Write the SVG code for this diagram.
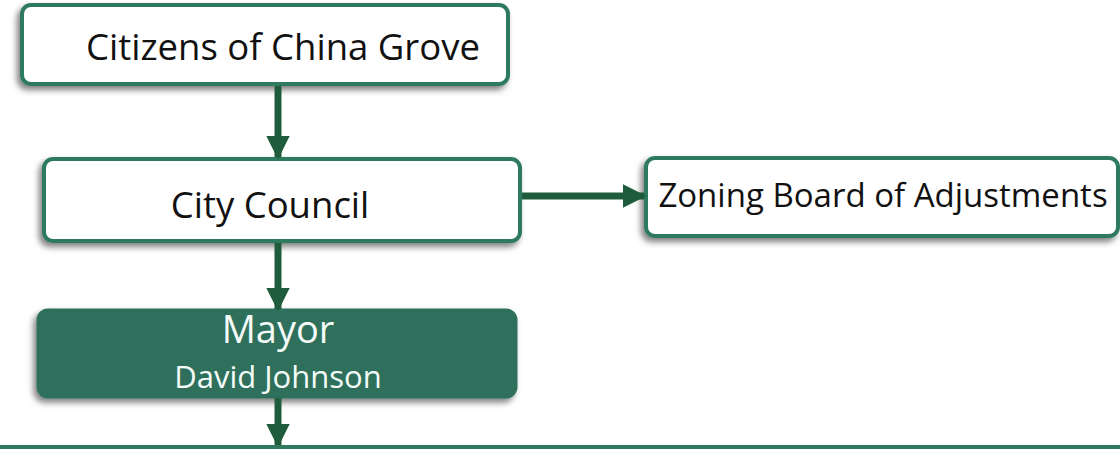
<svg xmlns="http://www.w3.org/2000/svg" width="1120" height="449" viewBox="0 0 1120 449">
<defs>
<filter id="sh" x="-10%" y="-20%" width="120%" height="150%">
<feDropShadow dx="-3" dy="4" stdDeviation="3" flood-color="#000" flood-opacity="0.5"/>
</filter>
<marker id="ah" viewBox="0 0 10 10" refX="9" refY="5" markerWidth="3.4" markerHeight="3.4" orient="auto" markerUnits="strokeWidth">
<path d="M0,0 L10,5 L0,10 z" fill="#1e5c3c"/>
</marker>
<style>
.box{fill:#fff;stroke:#2f7a5e;stroke-width:4;filter:url(#sh)}
.dark{fill:#2f6f5c;stroke:#2f6f5c;stroke-width:3;filter:url(#sh)}
.t{font-family:"Open Sans","Liberation Sans",sans-serif;fill:#111;text-anchor:middle}
.w{font-family:"Open Sans","Liberation Sans",sans-serif;fill:#f4fbf8;text-anchor:middle}
.c{stroke:#1e5c3c;stroke-width:7;fill:none;marker-end:url(#ah)}
</style>
</defs>
<g id="citizens">
<rect class="box" x="22" y="5" width="486" height="79" rx="9"/>
<text class="t" x="283" y="60" font-size="36.5">Citizens of China Grove</text>
</g>
<g id="council">
<rect class="box" x="44" y="159" width="476" height="82" rx="9"/>
<text class="t" x="270" y="218" font-size="36.5">City Council</text>
</g>
<g id="zoning">
<rect class="box" x="646" y="158" width="472" height="78" rx="9"/>
<text class="t" x="883" y="207" font-size="33">Zoning Board of Adjustments</text>
</g>
<g id="mayor">
<rect class="dark" x="38" y="310" width="478" height="87" rx="10"/>
<text class="w" x="278" y="343" font-size="38">Mayor</text>
<text class="w" x="278" y="388" font-size="31">David Johnson</text>
</g>
<g id="connectors">
<line class="c" x1="278" y1="86" x2="278" y2="157"/>
<line class="c" x1="522" y1="196" x2="644" y2="196"/>
<line class="c" x1="278" y1="243" x2="278" y2="309"/>
<line class="c" x1="278" y1="398" x2="278" y2="445"/>
<line x1="0" y1="447" x2="1120" y2="447" stroke="#2f7a5e" stroke-width="4"/>
</g>
</svg>
